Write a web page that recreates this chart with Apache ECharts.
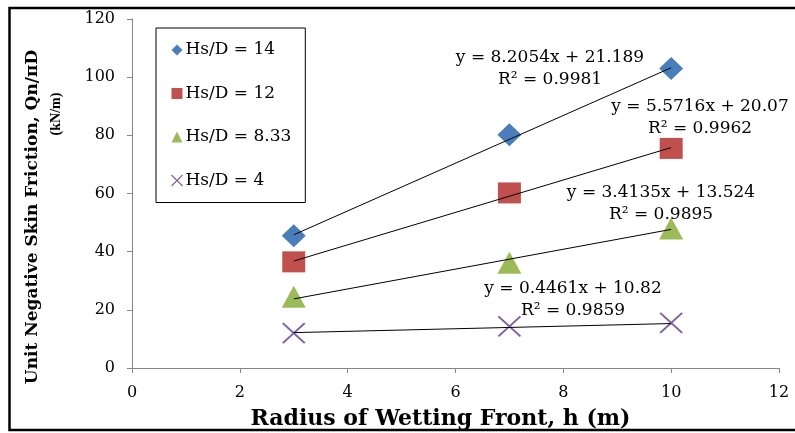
<!DOCTYPE html>
<html>
<head>
<meta charset="utf-8">
<script src="https://cdn.jsdelivr.net/npm/echarts@6/dist/echarts.min.js"></script>
<style>html,body{margin:0;padding:0;background:#fff;}#c{width:795px;height:433px;}</style>
</head>
<body>
<div id="c"></div>
<script>
// ---- data ----
var radius = [3, 7, 10];
var seriesNames = ['Hs/D = 14', 'Hs/D = 12', 'Hs/D = 8.33', 'Hs/D = 4'];
var hs14 = [45.5, 80.2, 103];
var hs12 = [36.5, 60.2, 75.5];
var hs833 = [24.5, 36.2, 48];
var hs4 = [12, 14.3, 15.5];
// trendline equations shown on the chart
var slopes = [8.2054, 5.5716, 3.4135, 0.4461];
var intercepts = [21.189, 20.07, 13.524, 10.82];
var r2 = ['0.9981', '0.9962', '0.9895', '0.9859'];
var xTicks = [0, 2, 4, 6, 8, 10, 12];
var yTicks = [0, 20, 40, 60, 80, 100, 120];

var values = [hs14, hs12, hs833, hs4];
var colors = ['#4A7EBB', '#C0504D', '#9BBB59', '#8064A2'];
var symbols = ['diamond', 'rect', 'triangle', 'path://M0,0L10,10M10,0L0,10'];
var symbolSizes = [[24, 23], [23, 21], [24, 22], [22, 20]];
var font = 'DejaVu Serif';

var chart = echarts.init(document.getElementById('c'), null, {renderer: 'canvas'});

var series = [];
values.forEach(function (vals, i) {
  var isCross = i === 3;
  series.push({
    name: seriesNames[i],
    type: 'scatter',
    data: radius.map(function (x, j) { return [x, vals[j]]; }),
    symbol: symbols[i],
    symbolSize: symbolSizes[i],
    itemStyle: isCross ? {color: 'none', borderColor: colors[i], borderWidth: 2, opacity: 1} : {color: colors[i], opacity: 1},
    z: 2
  });
});
// trendlines (linear fits given by the equations on the chart)
slopes.forEach(function (m, i) {
  var x0 = radius[0], x1 = radius[radius.length - 1];
  series.push({
    name: 'trend' + i,
    type: 'line',
    data: [[x0, m * x0 + intercepts[i]], [x1, m * x1 + intercepts[i]]],
    symbol: 'none',
    lineStyle: {color: '#000', width: 1},
    silent: true,
    z: 3
  });
});

var eqPos = [[550, 69], [700, 118], [661, 204], [573, 300]];
var graphics = [{
  type: 'rect', shape: {x: 9.5, y: 8, width: 800, height: 422},
  style: {fill: 'none', stroke: '#000', lineWidth: 2.5}, z: 100
}];
slopes.forEach(function (m, i) {
  graphics.push({
    type: 'text', x: eqPos[i][0], y: eqPos[i][1], z: 50,
    style: {
      text: 'y = ' + m + 'x + ' + intercepts[i] + '\nR² = ' + r2[i],
      font: '17px "' + font + '"', fill: '#000', align: 'center', verticalAlign: 'middle',
      lineHeight: 22
    }
  });
});
// y axis title (two lines)
graphics.push({
  type: 'text', x: 33, y: 217, rotation: Math.PI / 2,
  style: {text: 'Unit Negative Skin Friction, Qn/πD', font: 'bold 17px "' + font + '"', fill: '#000',
    align: 'center', verticalAlign: 'middle'}
});
graphics.push({
  type: 'text', x: 56, y: 114, rotation: Math.PI / 2,
  style: {text: '(kN/m)', font: 'bold 14px "Liberation Serif"', fill: '#000',
    align: 'center', verticalAlign: 'middle'}
});

chart.setOption({
  animation: false,
  grid: {left: 132, right: 16, top: 19, bottom: 65, containLabel: false, outerBoundsMode: 'none'},
  legend: {
    data: seriesNames.map(function (n, i) {
      return {name: n, icon: symbols[i], itemStyle: i === 3 ? {color: 'none', borderColor: colors[i], borderWidth: 1.2} : {color: colors[i]}};
    }),
    orient: 'vertical', left: 156, top: 28,
    padding: [12, 14, 12, 13],
    itemWidth: 11, itemHeight: 11, itemGap: 23.5,
    borderColor: '#000', borderWidth: 1,
    textStyle: {fontFamily: font, fontSize: 17, color: '#000', lineHeight: 20, padding: [0, 0, 0, -2]}
  },
  xAxis: {
    type: 'value', min: 0, max: 12, interval: 2,
    name: 'Radius of Wetting Front, h (m)', nameLocation: 'middle', nameGap: 40,
    nameTextStyle: {fontFamily: font, fontWeight: 'bold', fontSize: 22, color: '#000', padding: [0, 30, 0, 0]},
    axisLine: {lineStyle: {color: '#868686', width: 1}},
    axisTick: {show: true, length: 5, lineStyle: {color: '#868686'}},
    axisLabel: {fontFamily: font, fontSize: 16, color: '#000', margin: 17},
    splitLine: {show: false}
  },
  yAxis: {
    type: 'value', min: 0, max: 120, interval: 20,
    axisLine: {show: true, lineStyle: {color: '#868686', width: 1}},
    axisTick: {show: true, length: 5, lineStyle: {color: '#868686'}},
    axisLabel: {fontFamily: font, fontSize: 16, color: '#000', margin: 17},
    splitLine: {show: false}
  },
  series: series,
  graphic: graphics
});
</script>
</body>
</html>
